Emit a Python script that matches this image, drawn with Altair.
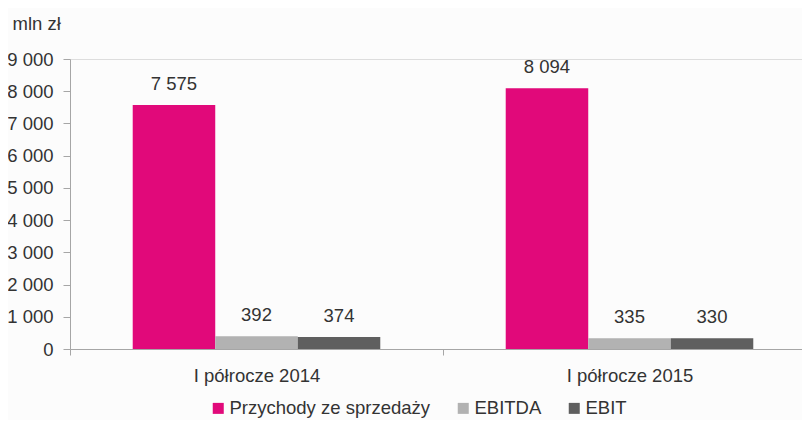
import altair as alt
import pandas as pd

periods = ["I półrocze 2014", "I półrocze 2015"]
series = ["Przychody ze sprzedaży", "EBITDA", "EBIT"]
revenue = [7575, 8094]
ebitda = [392, 335]
ebit = [374, 330]
colors = ["#e1097a", "#b2b2b2", "#5f5f5f"]
y_ticks = list(range(0, 9001, 1000))

rows = []
for i, p in enumerate(periods):
    for s, vals in zip(series, [revenue, ebitda, ebit]):
        rows.append({"period": p, "series": s, "value": vals[i]})
df = pd.DataFrame(rows)

font = "Liberation Sans"
text_color = "#333333"
axis_color = "#a6a6a6"
fs = 18.5

x = alt.X(
    "period:N", sort=periods,
    scale=alt.Scale(paddingInner=0, paddingOuter=0, range=[0, 746]),
    axis=alt.Axis(title=None, labelAngle=0, tickBand="extent", ticks=True, tickSize=6,
                  tickColor=axis_color, domainColor=axis_color, labelPadding=11,
                  labelFontSize=fs, labelColor=text_color, labelFont=font),
)
xo = alt.XOffset("series:N", sort=series, scale=alt.Scale(paddingOuter=0.76, paddingInner=0))
y = alt.Y(
    "value:Q", scale=alt.Scale(domain=[0, 9000], nice=False),
    axis=alt.Axis(values=y_ticks, format=",d", title="mln zł", titleAngle=0, titleX=-58,
                  titleY=-36, titleAlign="left", titleBaseline="middle", titleFont=font,
                  titleFontSize=fs, titleFontWeight="normal", titleColor=text_color,
                  grid=False, tickSize=7, tickColor=axis_color, domainColor=axis_color,
                  labelPadding=10, labelFontSize=fs, labelColor=text_color, labelFont=font),
)

base = alt.Chart(df)
bars = base.mark_bar().encode(
    x=x, xOffset=xo, y=y,
    color=alt.Color("series:N", sort=series,
                    scale=alt.Scale(domain=series, range=colors),
                    legend=alt.Legend(orient="none", legendX=139, legendY=340,
                                      direction="horizontal", title=None,
                                      symbolType="square", symbolSize=121,
                                      symbolStrokeWidth=0, labelFontSize=fs,
                                      labelFont=font, labelColor=text_color,
                                      labelLimit=0,
                                      columnPadding=23, labelOffset=2, padding=0)),
)
labels = base.mark_text(dy=-21, baseline="middle", fontSize=fs, font=font, color=text_color).encode(
    x=x, xOffset=xo, y=y, text=alt.Text("value:Q", format=",d")
)

chart = alt.layer(bars, labels).properties(
    width=732, height=290,
    autosize=alt.AutoSizeParams(type="none"),
    padding={"left": 62, "top": 51, "right": 0, "bottom": 71},
    background="#fcfcfc",
).configure_view(stroke=None).configure(
    locale={"number": {"decimal": ",", "thousands": " ", "grouping": [3], "currency": ["", " zł"]}}
)

chart.save("out.html", embed_options={"renderer": "svg", "actions": False})
